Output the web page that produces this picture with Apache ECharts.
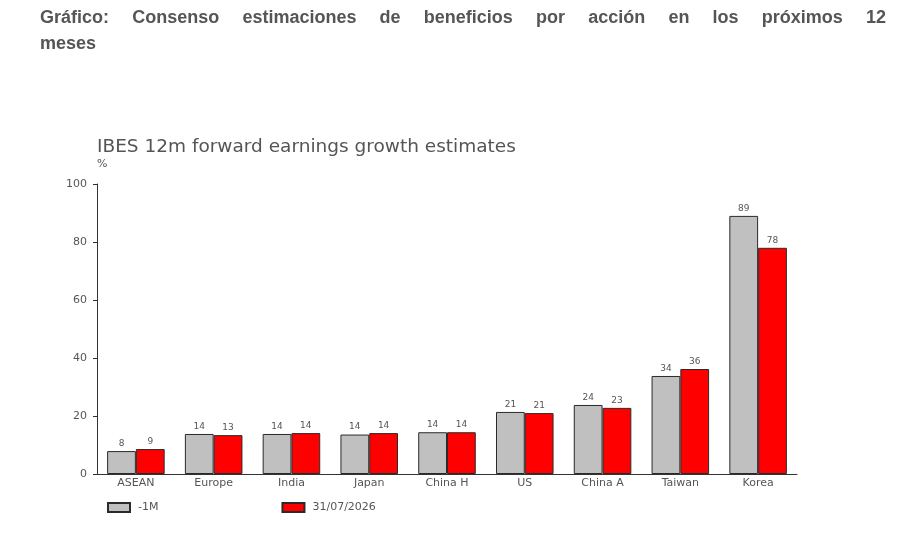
<!DOCTYPE html>
<html>
<head>
<meta charset="utf-8">
<script src="https://cdn.jsdelivr.net/npm/echarts@6/dist/echarts.min.js"></script>
<style>
  html, body { margin: 0; padding: 0; background: #fff; }
  #wrap { position: relative; width: 913px; height: 550px; }
  #head {
    position: absolute; left: 40px; top: 4px; width: 846px;
    font-family: "Liberation Sans Narrow", "Arial Narrow", "Liberation Sans", Arial, sans-serif;
    font-weight: bold; font-size: 18px; line-height: 26px; color: #555;
  }
  #head .l1 { text-align: justify; text-align-last: justify; }
  #chart { position: absolute; left: 0; top: 0; width: 913px; height: 550px; }
</style>
</head>
<body>
<div id="wrap">
  <div id="chart"></div>
  <div id="head">
    <div class="l1">Gráfico: Consenso estimaciones de beneficios por acción en los próximos 12</div>
    <div>meses</div>
  </div>
</div>
<script>
// values (labels show the rounded value)
const regions = ["ASEAN", "Europe", "India", "Japan", "China H", "US", "China A", "Taiwan", "Korea"];
const prevMonth = [7.9, 13.8, 13.8, 13.6, 14.4, 21.4, 23.8, 33.8, 89.0];
const latest = [8.6, 13.4, 14.1, 14.1, 14.4, 21.0, 22.8, 36.2, 78.0];
const yTicks = [0, 20, 40, 60, 80, 100];

const chart = echarts.init(document.getElementById("chart"));
const font = "DejaVu Sans, Liberation Sans, sans-serif";

const labelStyle = {
    show: true,
    position: "top",
    distance: 3,
    fontSize: 9,
    color: "#555",
    fontFamily: font,
    formatter: (p) => Math.round(p.value),
};

chart.setOption({
    animation: false,
    textStyle: { fontFamily: font },
    title: {
        text: "IBES 12m forward earnings growth estimates",
        subtext: "%",
        left: 92,
        top: 133,
        itemGap: 2,
        textStyle: { fontSize: 18.5, fontWeight: "normal", color: "#555", fontFamily: font },
        subtextStyle: { fontSize: 11, color: "#555", fontFamily: font },
    },
    legend: {
        left: 102,
        top: 497,
        itemWidth: 22,
        itemHeight: 9,
        itemGap: 123,
        icon: "rect",
        textStyle: { fontSize: 11, color: "#555", padding: [0, 0, 0, 3], fontFamily: font },
        data: ["-1M", "31/07/2026"],
    },
    grid: { left: 97, top: 184, width: 700, height: 290, containLabel: false },
    xAxis: {
        type: "category",
        data: regions,
        axisLine: { lineStyle: { color: "#333", width: 1 } },
        axisTick: { alignWithLabel: true, length: 3, lineStyle: { color: "#333" } },
        axisLabel: { fontSize: 11, color: "#555", margin: 4 },
    },
    yAxis: {
        type: "value",
        min: yTicks[0],
        max: yTicks[yTicks.length - 1],
        interval: 20,
        splitLine: { show: false },
        axisLine: { show: true, lineStyle: { color: "#333", width: 1 } },
        axisTick: { show: true, length: 4, lineStyle: { color: "#333" } },
        axisLabel: { fontSize: 11, color: "#555", margin: 10 },
    },
    series: [
        {
            name: "-1M",
            type: "bar",
            data: prevMonth,
            barGap: "0%",
            barCategoryGap: "26%",
            itemStyle: { color: "#c0c0c0", borderColor: "#2a2a2a", borderWidth: 1 },
            label: labelStyle,
        },
        {
            name: "31/07/2026",
            type: "bar",
            data: latest,
            itemStyle: { color: "#ff0000", borderColor: "#2a2a2a", borderWidth: 1 },
            label: labelStyle,
        },
    ],
});
</script>
</body>
</html>
